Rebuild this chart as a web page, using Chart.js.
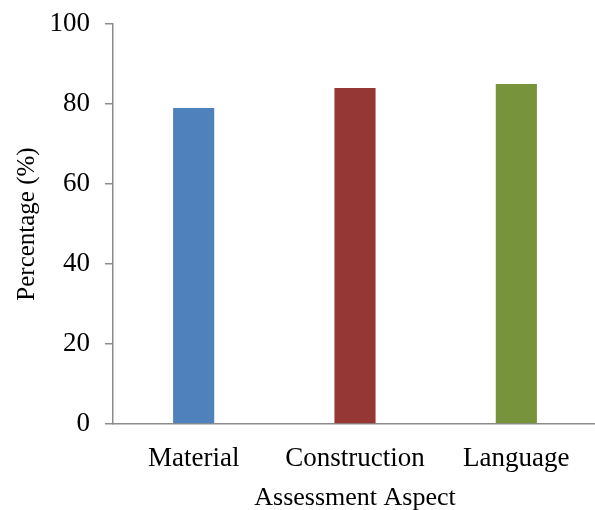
<!DOCTYPE html>
<html>
<head>
<meta charset="utf-8">
<script src="https://cdn.jsdelivr.net/npm/chart.js@4"></script>
<style>
  body { margin: 0; overflow: hidden; background: #fff; }
  #wrap { width: 600px; height: 510px; }
</style>
</head>
<body>
<div id="wrap"><canvas id="chart" width="600" height="510"></canvas></div>
<script>
// datos
const aspects = ['Material', 'Construction', 'Language'];
const percentages = [79, 84, 85];
const barColors = ['#4F81BD', '#953735', '#77933C'];
const yTicks = [0, 20, 40, 60, 80, 100];

const axisColor = '#8c8c8c';
const serif = '"Liberation Serif", "Times New Roman", serif';

document.addEventListener('DOMContentLoaded', function() {
    renderChart();
});

function renderChart() {
    const ctx = document.getElementById('chart').getContext('2d');
    new Chart(ctx, {
        type: 'bar',
        data: {
            labels: aspects,
            datasets: [{
                label: 'Percentage',
                data: percentages,
                backgroundColor: barColors,
                borderWidth: 0,
                barPercentage: 0.255,
                categoryPercentage: 1
            }]
        },
        options: {
            responsive: false,
            animation: false,
            layout: { padding: { top: 24, right: 3, left: 0, bottom: 0 } },
            plugins: {
                legend: { display: false },
                tooltip: { enabled: false }
            },
            scales: {
                x: {
                    grid: { display: false, drawTicks: false },
                    border: { display: true, color: axisColor, width: 1.5 },
                    ticks: {
                        color: '#000',
                        font: { family: serif, size: 27 },
                        padding: 19,
                        maxRotation: 0
                    },
                    title: {
                        display: true,
                        text: 'Assessment Aspect',
                        color: '#000',
                        font: { family: serif, size: 26 },
                        padding: { top: -4, bottom: -4 }
                    },
                    afterFit: function(scale) { scale.height = 86; }
                },
                y: {
                    min: 0,
                    max: 100,
                    afterBuildTicks: function(scale) {
                        scale.ticks = yTicks.map(v => ({ value: v }));
                    },
                    grid: {
                        drawOnChartArea: false,
                        drawTicks: true,
                        tickLength: 8,
                        color: axisColor,
                        lineWidth: 1.5
                    },
                    border: { display: true, color: axisColor, width: 1.5 },
                    ticks: {
                        color: '#000',
                        font: { family: serif, size: 27 },
                        padding: 15
                    },
                    title: {
                        display: true,
                        text: 'Percentage (%)',
                        color: '#000',
                        font: { family: serif, size: 25 },
                        padding: { top: 12, bottom: 0 }
                    },
                    afterFit: function(scale) {
                        scale.width = 113;
                        scale.paddingTop = 0;
                        scale.paddingBottom = 0;
                    }
                }
            }
        }
    });
}
</script>
</body>
</html>
